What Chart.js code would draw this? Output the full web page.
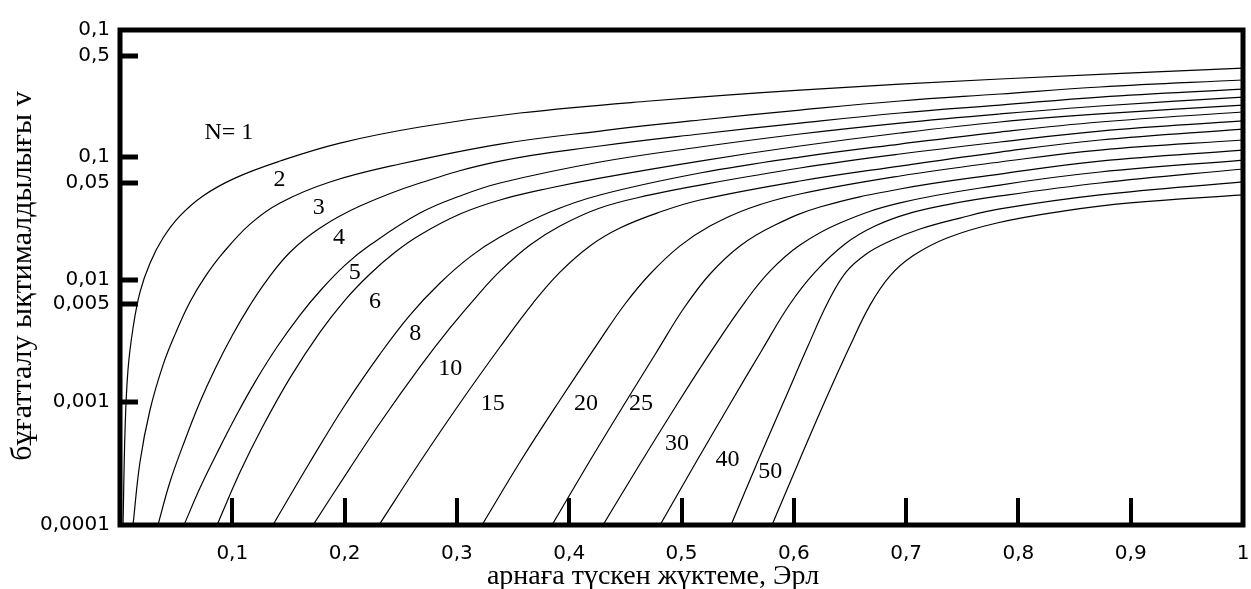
<!DOCTYPE html>
<html>
<head>
<meta charset="utf-8">
<style>
  html, body { margin: 0; padding: 0; background: #fff; }
</style>
</head>
<body>
<canvas id="chart" width="1251" height="589"></canvas>
<script src="https://cdn.jsdelivr.net/npm/chart.js@4/dist/chart.umd.min.js"></script>
<script>
// Curves: [load per channel (Erl), blocking probability]
const n1 = [[0.0027, 0.0001], [0.0045, 0.000594], [0.0071, 0.00183], [0.0116, 0.00403], [0.0178, 0.00791],
  [0.0267, 0.0136], [0.0383, 0.0218], [0.0534, 0.033], [0.0739, 0.048], [0.1024, 0.0671], [0.1425, 0.0924],
  [0.1959, 0.1295], [0.2671, 0.175], [0.3562, 0.2276], [0.472, 0.2851], [0.6055, 0.35], [0.7836, 0.4305], [1, 0.529]];
const n2 = [[0.0116, 0.0001], [0.0178, 0.000326], [0.0267, 0.000865], [0.0383, 0.00201], [0.0499, 0.00373],
  [0.0623, 0.00656], [0.0757, 0.0105], [0.0908, 0.0161], [0.1158, 0.0283], [0.1425, 0.0421], [0.187, 0.0624],
  [0.2493, 0.0874], [0.3384, 0.1271], [0.4274, 0.1622], [0.5165, 0.1996], [0.6055, 0.2405], [0.6946, 0.2851],
  [0.7836, 0.3251], [0.8727, 0.3707], [1, 0.4227]];
const n3 = [[0.0338, 0.0001], [0.0445, 0.000224], [0.0579, 0.000493], [0.0712, 0.001005], [0.0846, 0.00187],
  [0.0997, 0.00347], [0.1158, 0.00619], [0.1309, 0.00991], [0.1514, 0.0167], [0.1781, 0.0263], [0.2137, 0.0397],
  [0.2671, 0.0612], [0.3384, 0.0924], [0.4274, 0.1225], [0.5165, 0.1535], [0.6055, 0.1884], [0.6946, 0.2276],
  [0.7836, 0.2642], [0.8727, 0.307], [1, 0.3565]];
const n4 = [[0.057, 0.0001], [0.0712, 0.0002], [0.0864, 0.000386], [0.1024, 0.000745], [0.1202, 0.00146],
  [0.1398, 0.00282], [0.1603, 0.00514], [0.1781, 0.00807], [0.2004, 0.0131], [0.2226, 0.0191], [0.2671, 0.0348],
  [0.3028, 0.048], [0.3384, 0.0612], [0.4274, 0.0907], [0.5165, 0.1202], [0.6055, 0.1535], [0.6946, 0.1884],
  [0.7836, 0.2235], [0.8727, 0.2594], [1, 0.307]];
const n5 = [[0.0864, 0.0001], [0.1069, 0.00027], [0.1264, 0.000617], [0.1514, 0.00158], [0.1781, 0.00373],
  [0.2004, 0.00681], [0.2226, 0.0111], [0.2449, 0.0167], [0.2671, 0.0231], [0.3028, 0.0342], [0.3384, 0.0445],
  [0.3829, 0.0557], [0.4274, 0.0671], [0.5165, 0.0924], [0.6055, 0.1225], [0.6946, 0.1563], [0.7836, 0.1923],
  [0.8727, 0.2235], [1, 0.2642]];
const n6 = [[0.1362, 0.0001], [0.1692, 0.000326], [0.2004, 0.000951], [0.2315, 0.00247], [0.2582, 0.00514],
  [0.285, 0.00937], [0.3117, 0.0153], [0.3384, 0.0222], [0.3829, 0.0355], [0.4274, 0.0489], [0.5165, 0.0738],
  [0.6055, 0.0996], [0.6946, 0.1271], [0.7836, 0.1592], [0.8727, 0.1923], [1, 0.2318]];
const n8 = [[0.1719, 0.0001], [0.2048, 0.000291], [0.2315, 0.000678], [0.2671, 0.00194], [0.2939, 0.00403],
  [0.3179, 0.00734], [0.3384, 0.0117], [0.3651, 0.0191], [0.3918, 0.0273], [0.4274, 0.0383], [0.472, 0.0489],
  [0.5165, 0.0589], [0.6055, 0.0811], [0.6946, 0.1054], [0.7836, 0.1321], [0.8727, 0.1622], [1, 0.196]];
const n10 = [[0.2306, 0.0001], [0.2671, 0.000326], [0.3028, 0.000986], [0.3384, 0.00282], [0.3678, 0.00644],
  [0.3918, 0.0115], [0.4185, 0.0188], [0.4452, 0.0263], [0.4809, 0.0355], [0.5165, 0.0445], [0.6055, 0.0635],
  [0.6946, 0.0841], [0.7836, 0.1094], [0.8727, 0.1371], [1, 0.1684]];
const n15 = [[0.3224, 0.0001], [0.3562, 0.000326], [0.3918, 0.001043], [0.4274, 0.00321], [0.4497, 0.00632],
  [0.472, 0.0111], [0.4987, 0.0188], [0.5254, 0.0273], [0.561, 0.0383], [0.6055, 0.0498], [0.6946, 0.0698],
  [0.7836, 0.0907], [0.8727, 0.1136], [1, 0.1371]];
const n20 = [[0.3847, 0.0001], [0.4167, 0.000314], [0.447, 0.000898], [0.4773, 0.00252], [0.5022, 0.00586],
  [0.5254, 0.0111], [0.5521, 0.0188], [0.5833, 0.0278], [0.6233, 0.039], [0.6946, 0.0547], [0.7836, 0.0724],
  [0.8727, 0.0924], [1, 0.1136]];
const n25 = [[0.4301, 0.0001], [0.463, 0.000314], [0.4951, 0.000933], [0.5272, 0.00267], [0.5565, 0.00656],
  [0.5788, 0.0117], [0.6055, 0.0191], [0.6411, 0.0289], [0.6946, 0.0421], [0.7836, 0.0589], [0.8727, 0.0752],
  [1, 0.0941]];
const n30 = [[0.4809, 0.0001], [0.512, 0.000314], [0.5432, 0.000968], [0.5717, 0.00267], [0.5966, 0.00632],
  [0.6189, 0.0115], [0.6456, 0.0195], [0.6723, 0.0273], [0.7035, 0.0348], [0.7391, 0.0412], [0.7836, 0.048],
  [0.8727, 0.0612], [1, 0.0796]];
const n40 = [[0.5441, 0.0001], [0.5681, 0.000332], [0.5913, 0.001023], [0.6126, 0.00287], [0.6305, 0.00656],
  [0.6465, 0.0115], [0.6643, 0.0161], [0.6857, 0.0206], [0.7124, 0.0258], [0.748, 0.0317], [0.7836, 0.0376],
  [0.8727, 0.0489], [1, 0.0624]];
const n50 = [[0.5806, 0.0001], [0.6055, 0.000345], [0.6278, 0.001023], [0.65, 0.00287], [0.6679, 0.00619],
  [0.6857, 0.0107], [0.7061, 0.0156], [0.7364, 0.0218], [0.7809, 0.0289], [0.8397, 0.0361], [0.8994, 0.0421],
  [1, 0.0489]];

const curves = [n1, n2, n3, n4, n5, n6, n8, n10, n15, n20, n25, n30, n40, n50];

// Curve captions and where they sit (load, probability)
const curveLabels = ['N= 1', '2', '3', '4', '5', '6', '8', '10', '15', '20', '25', '30', '40', '50'];
const labelLoad = [0.097, 0.142, 0.177, 0.195, 0.209, 0.227, 0.263, 0.294, 0.332, 0.415, 0.464, 0.496, 0.541, 0.579];
const labelProb = [0.157, 0.0648, 0.0382, 0.0221, 0.0114, 0.0066, 0.0036, 0.00186, 0.00098, 0.00098, 0.00098, 0.00046, 0.00034, 0.00027];

// Axis ticks (the y marks sit where the drawing puts them)
const xTicks = [0.1, 0.2, 0.3, 0.4, 0.5, 0.6, 0.7, 0.8, 0.9, 1];
const xTickLabels = ['0,1', '0,2', '0,3', '0,4', '0,5', '0,6', '0,7', '0,8', '0,9', '1'];
const yTicks = [1.08, 0.665, 0.1, 0.0614, 0.01, 0.00634, 0.001, 0.0001];
const yTickLabels = ['0,1', '0,5', '0,1', '0,05', '0,01', '0,005', '0,001', '0,0001'];

const xTitle = 'арнаға түскен жүктеме, Эрл';
const yTitle = 'бұғатталу ықтималдылығы v';

// Frame, inward tick marks, curve captions and axis titles
const framePlugin = {
  id: 'frame',
  afterDatasetsDraw(chart) {
    const { ctx, chartArea: a, scales: { x, y } } = chart;
    ctx.save();
    ctx.strokeStyle = '#000';
    ctx.lineWidth = 5;
    ctx.strokeRect(a.left, a.top, a.right - a.left, a.bottom - a.top);

    yTicks.forEach(v => {
      if (v === y.max || v === y.min) return;
      const py = Math.round(y.getPixelForValue(v));
      ctx.beginPath();
      ctx.moveTo(a.left, py);
      ctx.lineTo(a.left + 18, py);
      ctx.stroke();
    });
    ctx.lineWidth = 4;
    xTicks.forEach(v => {
      if (v === x.max) return;
      const px = Math.round(x.getPixelForValue(v));
      ctx.beginPath();
      ctx.moveTo(px, a.bottom);
      ctx.lineTo(px, a.bottom - 27);
      ctx.stroke();
    });

    ctx.fillStyle = '#000';
    ctx.textAlign = 'center';
    ctx.textBaseline = 'middle';
    ctx.font = '24px "Liberation Serif"';
    curveLabels.forEach((t, i) => {
      ctx.fillText(t, x.getPixelForValue(labelLoad[i]), y.getPixelForValue(labelProb[i]));
    });

    ctx.font = '28px "Liberation Serif"';
    ctx.fillText(xTitle, 653, 577);
    ctx.font = '30px "Liberation Serif"';
    ctx.translate(23, 276);
    ctx.rotate(-Math.PI / 2);
    ctx.fillText(yTitle, 0, 0);
    ctx.restore();
  }
};

new Chart(document.getElementById('chart'), {
  type: 'line',
  data: {
    datasets: curves.map((pts, i) => ({
      label: curveLabels[i],
      data: pts.map(p => ({ x: p[0], y: p[1] })),
      borderColor: '#000',
      borderWidth: 1.2,
      pointRadius: 0,
      fill: false,
      tension: 0.4
    }))
  },
  options: {
    responsive: false,
    animation: false,
    layout: { padding: { top: 30, right: 8, left: 0, bottom: 0 } },
    plugins: { legend: { display: false }, tooltip: { enabled: false } },
    scales: {
      x: {
        type: 'linear',
        min: 0,
        max: 1,
        grid: { display: false, drawTicks: false },
        border: { display: false },
        afterBuildTicks: s => { s.ticks = xTicks.map(v => ({ value: v })); },
        afterFit: s => { s.height = 64; s.paddingRight = 0; s.paddingLeft = 0; },
        ticks: {
          autoSkip: false,
          maxRotation: 0,
          padding: 17,
          color: '#000',
          font: { family: 'DejaVu Sans', size: 20 },
          callback: (v, i) => xTickLabels[i]
        }
      },
      y: {
        type: 'logarithmic',
        min: 0.0001,
        max: 1.08,
        grid: { display: false, drawTicks: false },
        border: { display: false },
        afterBuildTicks: s => { s.ticks = yTicks.map(v => ({ value: v })); },
        afterFit: s => { s.width = 120; },
        ticks: {
          autoSkip: false,
          padding: 10,
          color: '#000',
          font: { family: 'DejaVu Sans', size: 20 },
          callback: (v, i) => yTickLabels[i]
        }
      }
    }
  },
  plugins: [framePlugin]
});
</script>
</body>
</html>
